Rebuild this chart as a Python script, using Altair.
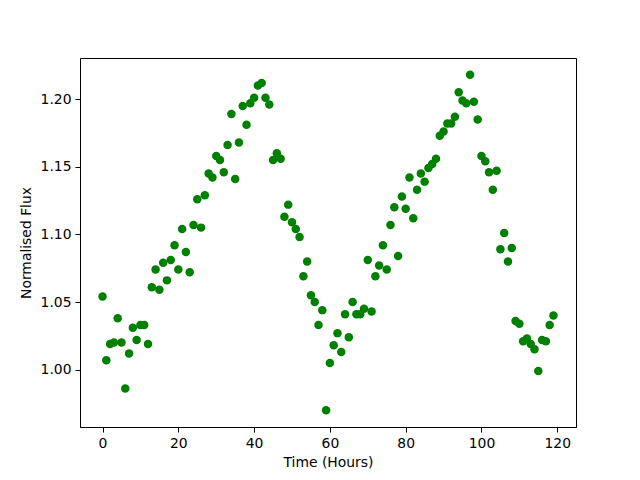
import altair as alt
import pandas as pd

hours = list(range(120))
flux = [
    1.054, 1.007, 1.019, 1.020, 1.038, 1.020, 0.986, 1.012, 1.031, 1.022,
    1.033, 1.033, 1.019, 1.061, 1.074, 1.059, 1.079, 1.066, 1.081, 1.092,
    1.074, 1.104, 1.087, 1.072, 1.107, 1.126, 1.105, 1.129, 1.145, 1.142,
    1.158, 1.155, 1.146, 1.166, 1.189, 1.141, 1.168, 1.195, 1.181, 1.197,
    1.201, 1.210, 1.212, 1.201, 1.196, 1.155, 1.160, 1.156, 1.113, 1.122,
    1.109, 1.104, 1.098, 1.069, 1.080, 1.055, 1.050, 1.033, 1.044, 0.970,
    1.005, 1.018, 1.027, 1.013, 1.041, 1.024, 1.050, 1.041, 1.041, 1.045,
    1.081, 1.043, 1.069, 1.077, 1.092, 1.074, 1.107, 1.120, 1.084, 1.128,
    1.119, 1.142, 1.112, 1.133, 1.145, 1.139, 1.149, 1.152, 1.156, 1.173,
    1.176, 1.182, 1.182, 1.187, 1.205, 1.199, 1.197, 1.218, 1.198, 1.185,
    1.158, 1.154, 1.146, 1.133, 1.147, 1.089, 1.101, 1.080, 1.090, 1.036,
    1.034, 1.021, 1.023, 1.019, 1.015, 0.999, 1.022, 1.021, 1.033, 1.040,
]
x_ticks = [0, 20, 40, 60, 80, 100, 120]
y_ticks = [1.00, 1.05, 1.10, 1.15, 1.20]

df = pd.DataFrame({"hours": hours, "flux": flux})

axis_common = dict(
    grid=False, domainColor="black", tickColor="black", tickSize=5,
    labelFont="DejaVu Sans", labelFontSize=13.9, labelColor="black",
    titleFont="DejaVu Sans", titleFontSize=13.9, titleFontWeight="normal",
    titleColor="black", labelPadding=4,
)

chart = alt.Chart(df).mark_circle(size=72, opacity=1, color="#008000").encode(
    x=alt.X("hours:Q", title="Time (Hours)",
            scale=alt.Scale(domain=[-5.95, 124.95], nice=False, zero=False),
            axis=alt.Axis(values=x_ticks, format="d", titlePadding=6, **axis_common)),
    y=alt.Y("flux:Q", title="Normalised Flux",
            scale=alt.Scale(domain=[0.9576, 1.2304], nice=False, zero=False),
            axis=alt.Axis(values=y_ticks, format=".2f", titlePadding=7, **axis_common)),
).properties(
    width=496, height=369,
    padding={"left": 72, "top": 50, "right": 56, "bottom": 45},
    autosize=alt.AutoSizeParams(type="none"),
).configure_view(stroke="black", strokeWidth=1)

chart.save("out.html", embed_options={"renderer": "svg", "actions": False})
